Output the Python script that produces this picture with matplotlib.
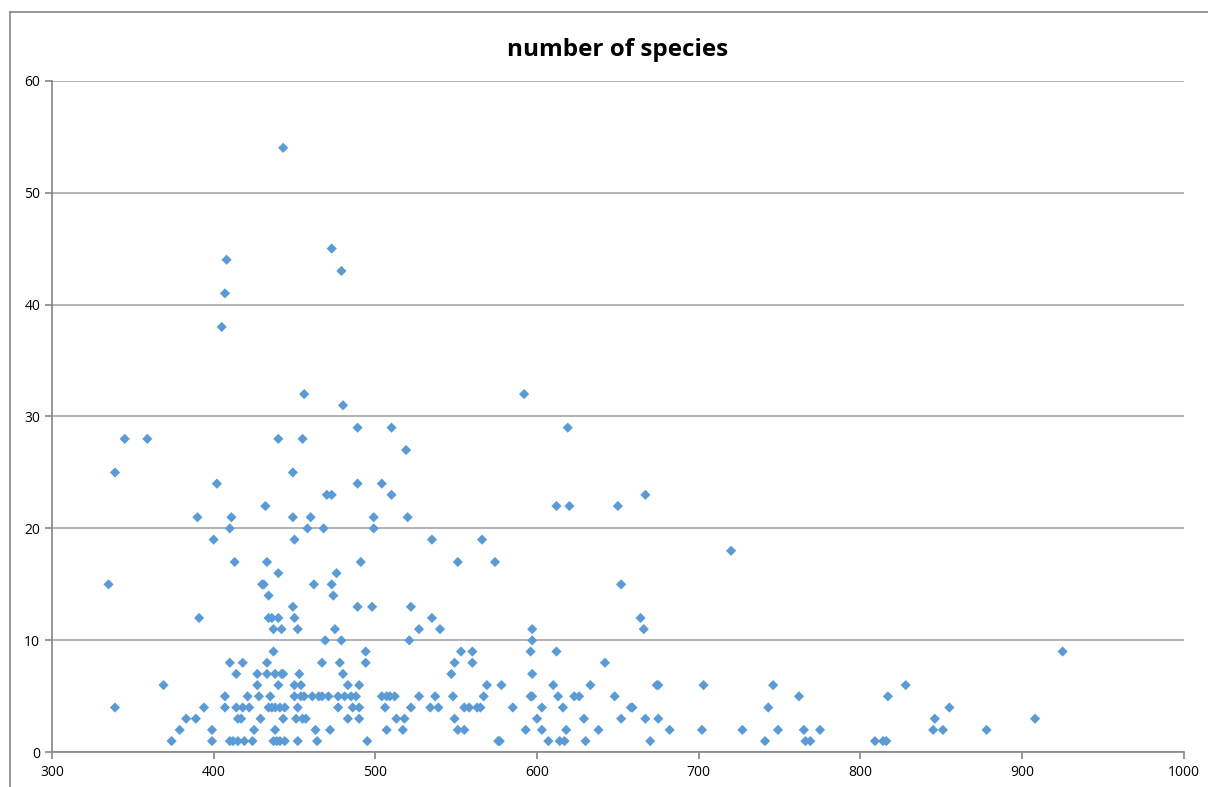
import matplotlib
matplotlib.use("Agg")
import matplotlib.pyplot as plt
from matplotlib.lines import Line2D

# altitude (x) vs number of species (y)
altitude = [
    335, 339, 339, 345, 359, 369, 374, 379, 383, 389, 390, 391, 394, 399, 399,
    400, 402, 405, 407, 408, 407, 407, 410, 410, 410, 411, 412, 413, 414, 414,
    415, 415, 417, 418, 418, 419, 421, 422, 424, 425, 427, 427, 428, 429, 430,
    431, 432, 433, 433, 433, 434, 434, 434, 435, 436, 436, 437, 437, 437, 438,
    438, 438, 439, 440, 440, 440, 440, 441, 441, 442, 442, 443, 443, 443, 444,
    444, 449, 449, 449, 450, 450, 450, 450, 451, 452, 452, 452, 453, 454, 454,
    455, 455, 456, 456, 457, 458, 460, 461, 462, 463, 464, 465, 467, 467, 468,
    469, 470, 471, 472, 473, 473, 473, 474, 475, 476, 477, 477, 478, 479, 479,
    480, 480, 481, 483, 483, 485, 486, 488, 489, 489, 489, 490, 490, 490, 491,
    494, 494, 495, 498, 499, 499, 504, 504, 506, 507, 507, 509, 510, 510, 512,
    513, 517, 518, 519, 520, 521, 522, 522, 527, 527, 534, 535, 535, 537, 539,
    540, 547, 548, 549, 549, 551, 551, 553, 555, 555, 558, 560, 560, 563, 565,
    566, 567, 569, 574, 576, 577, 578, 585, 592, 593, 596, 596, 597, 597, 597,
    597, 600, 603, 603, 607, 610, 612, 612, 613, 614, 616, 617, 618, 619, 620,
    623, 626, 629, 630, 633, 638, 642, 648, 650, 652, 652, 658, 659, 664, 666,
    667, 667, 670, 674, 675, 675, 682, 702, 703, 720, 727, 741, 743, 746, 749,
    762, 765, 766, 769, 775, 809, 814, 816, 817, 828, 845, 846, 851, 855, 878,
    908, 925,
]
species = [
    15, 25, 4, 28, 28, 6, 1, 2, 3, 3, 21, 12, 4, 2, 1,
    19, 24, 38, 41, 44, 4, 5, 20, 8, 1, 21, 1, 17, 7, 4,
    3, 1, 3, 8, 4, 1, 5, 4, 1, 2, 7, 6, 5, 3, 15,
    15, 22, 17, 8, 7, 12, 14, 4, 5, 4, 12, 9, 11, 1, 4,
    7, 2, 1, 28, 16, 6, 12, 4, 1, 11, 7, 54, 3, 7, 4,
    1, 25, 21, 13, 19, 12, 6, 5, 3, 4, 11, 1, 7, 6, 5,
    28, 3, 32, 5, 3, 20, 21, 5, 15, 2, 1, 5, 8, 5, 20,
    10, 23, 5, 2, 23, 45, 15, 14, 11, 16, 5, 4, 8, 43, 10,
    31, 7, 5, 3, 6, 5, 4, 5, 29, 24, 13, 4, 6, 3, 17,
    9, 8, 1, 13, 20, 21, 24, 5, 4, 5, 2, 5, 23, 29, 5,
    3, 2, 3, 27, 21, 10, 13, 4, 11, 5, 4, 19, 12, 5, 4,
    11, 7, 5, 8, 3, 2, 17, 9, 2, 4, 4, 8, 9, 4, 4,
    19, 5, 6, 17, 1, 1, 6, 4, 32, 2, 9, 5, 11, 10, 7,
    5, 3, 4, 2, 1, 6, 22, 9, 5, 1, 4, 1, 2, 29, 22,
    5, 5, 3, 1, 6, 2, 8, 5, 22, 15, 3, 4, 4, 12, 11,
    23, 3, 1, 6, 6, 3, 2, 2, 6, 18, 2, 1, 4, 6, 2,
    5, 2, 1, 1, 2, 1, 1, 1, 5, 6, 2, 3, 2, 4, 2,
    3, 9,
]
x_ticks = [300, 400, 500, 600, 700, 800, 900, 1000]
y_ticks = [0, 10, 20, 30, 40, 50, 60]

plt.rcParams['font.family'] = ['Open Sans', 'DejaVu Sans']

fig = plt.figure(figsize=(12.08, 7.87), dpi=100)
ax = fig.add_axes([0.043, 0.0441, 0.937, 0.8534])

ax.scatter(altitude, species, marker='D', s=27, color='#5B9BD5',
           edgecolors='none', zorder=3, clip_on=False)

ax.set_xlim(300, 1000)
ax.set_ylim(0, 60)
ax.set_xticks(x_ticks)
ax.set_yticks(y_ticks)
ax.yaxis.grid(True, color='#A6A6A6', linewidth=1.2)
ax.set_axisbelow(True)

for side in ['top', 'right']:
    ax.spines[side].set_visible(False)
for side in ['left', 'bottom']:
    ax.spines[side].set_color('#868686')
    ax.spines[side].set_linewidth(1.2)

ax.tick_params(axis='both', colors='#868686', length=5, width=1.2,
               labelcolor='black', labelsize=10)
ax.tick_params(axis='x', pad=4)

ax.set_title('number of species', fontsize=17.5, fontweight='bold', pad=18)

# outer chart border (cut off at right and bottom)
fig.add_artist(Line2D([10 / 1208, 1], [1 - 12 / 787, 1 - 12 / 787],
                      transform=fig.transFigure, color='#868686', linewidth=1.2))
fig.add_artist(Line2D([10 / 1208, 10 / 1208], [0, 1 - 12 / 787],
                      transform=fig.transFigure, color='#868686', linewidth=1.2))

fig.savefig('out.png', dpi=100)
